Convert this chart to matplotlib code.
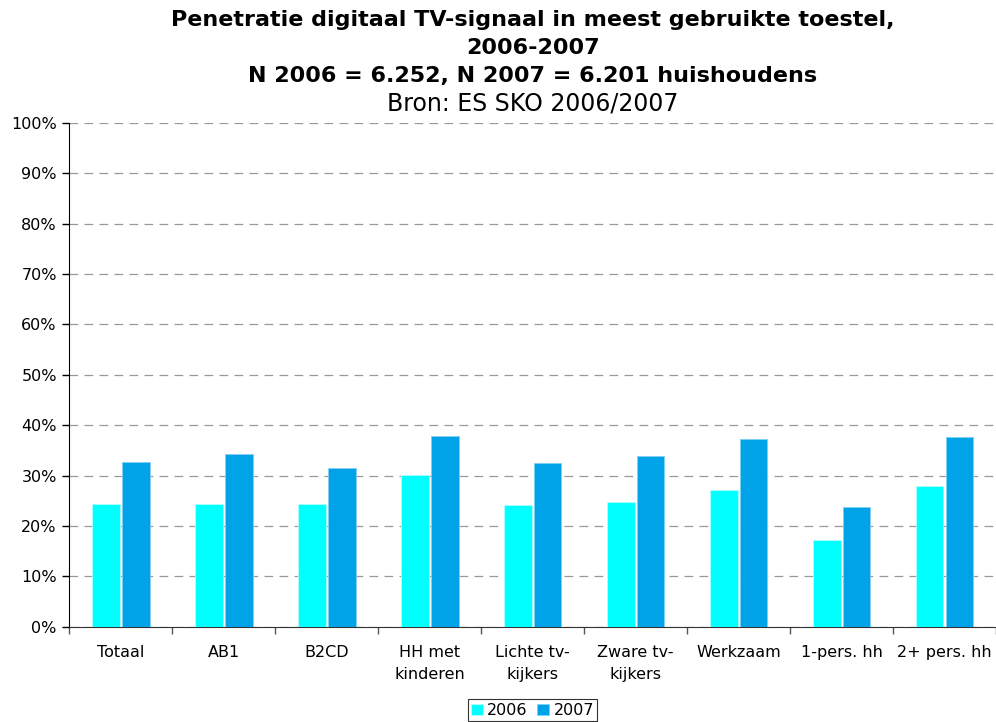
import numpy as np
import matplotlib
matplotlib.use("Agg")
import matplotlib.pyplot as plt
from matplotlib.ticker import PercentFormatter

# categorieen en waarden (%)
categories = ["Totaal", "AB1", "B2CD", "HH met\nkinderen", "Lichte tv-\nkijkers",
              "Zware tv-\nkijkers", "Werkzaam", "1-pers. hh", "2+ pers. hh"]
vals_2006 = [24.3, 24.3, 24.4, 30.2, 24.1, 24.7, 27.2, 17.3, 28.0]
vals_2007 = [32.7, 34.3, 31.5, 37.8, 32.5, 33.9, 37.2, 23.7, 37.6]
years = ["2006", "2007"]
colors = ["#00FFFF", "#00A2E8"]

plt.rcParams['font.family'] = ['DejaVu Sans']

fig = plt.figure(figsize=(9.96, 7.22), dpi=100)
ax_box = [0.0696, 0.132, 0.9304, 0.6976]
ax = fig.add_axes(ax_box)

x = np.arange(len(categories))
w = 0.27
ax.bar(x - w / 2 - 0.01, vals_2006, w, color=colors[0], edgecolor="#B0FFFF",
       linewidth=0.6, label=years[0], zorder=3)
ax.bar(x + w / 2 + 0.01, vals_2007, w, color=colors[1], edgecolor="#7FD0F3",
       linewidth=0.6, label=years[1], zorder=3)

ax.set_xlim(-0.5, len(categories) - 0.5)
ax.set_ylim(0, 100)
ax.set_yticks(np.arange(0, 101, 10))
ax.yaxis.set_major_formatter(PercentFormatter(decimals=0))
ax.yaxis.grid(True, color="#999999", linestyle=(0, (7, 5)), linewidth=0.9, zorder=0)

# category labels centered, ticks on boundaries
ax.set_xticks(x)
ax.set_xticklabels(categories, fontsize=11.5, linespacing=1.6)
ax.tick_params(axis="x", length=0, pad=13)
ax.set_xticks(np.arange(-0.5, len(categories), 1), minor=True)
ax.tick_params(axis="x", which="minor", length=5, width=1, color="#555555")
ax.tick_params(axis="y", length=5, width=1, labelsize=11.5, pad=4)

for s in ["top", "right"]:
    ax.spines[s].set_visible(False)
ax.spines["left"].set_color("black")
ax.spines["bottom"].set_color("#333333")

leg = ax.legend(loc="lower center", bbox_to_anchor=(0.5, -0.187), ncol=2,
                fontsize=11.5, frameon=True, fancybox=False, edgecolor="black",
                handlelength=0.7, handleheight=0.7, handletextpad=0.3,
                columnspacing=0.6, borderpad=0.2, borderaxespad=0)
leg.get_frame().set_linewidth(0.8)

# titel gecentreerd boven de plotarea
cx = ax_box[0] + ax_box[2] / 2
fig.text(cx, 0.972, "Penetratie digitaal TV-signaal in meest gebruikte toestel,",
         ha="center", va="center", fontsize=16, fontweight="bold")
fig.text(cx, 0.934, "2006-2007", ha="center", va="center", fontsize=16, fontweight="bold")
fig.text(cx, 0.895, "N 2006 = 6.252, N 2007 = 6.201 huishoudens",
         ha="center", va="center", fontsize=16, fontweight="bold")
fig.text(cx, 0.857, "Bron: ES SKO 2006/2007", ha="center", va="center", fontsize=17)

fig.savefig("out.png", dpi=100)
